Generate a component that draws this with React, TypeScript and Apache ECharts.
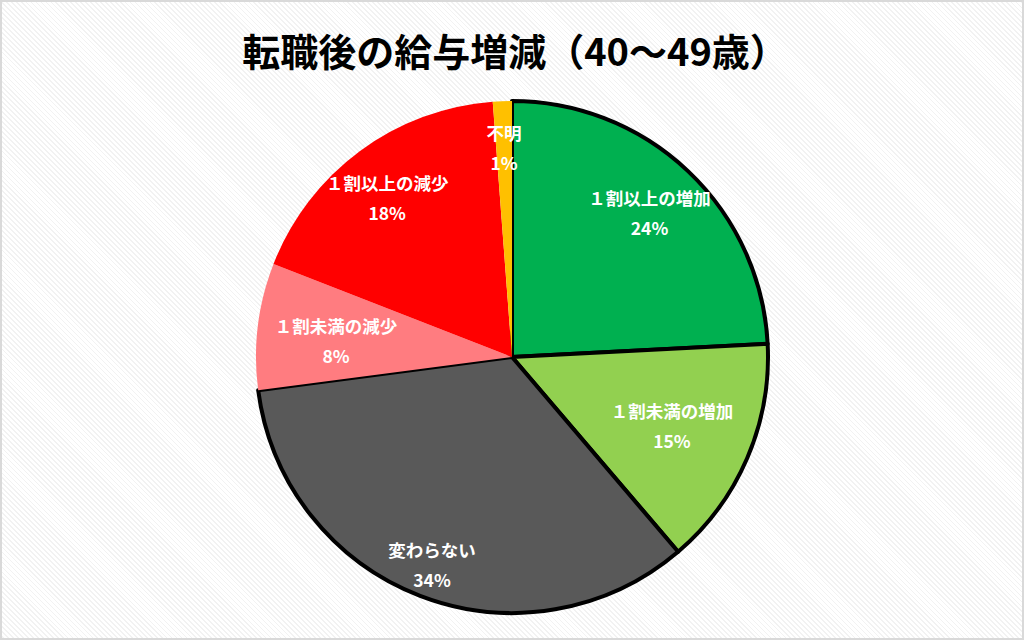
import React, { useEffect, useRef } from "react";
import * as echarts from "echarts";

const titleText = "転職後の給与増減（40〜49歳）";
const categories = ["１割以上の増加", "１割未満の増加", "変わらない", "１割未満の減少", "１割以上の減少", "不明"];
const shares = [24.2, 14.6, 34.2, 8.0, 17.9, 1.2];

const colors = ["#00b050", "#92d050", "#595959", "#ff7c80", "#ff0000", "#ffc000"];
const outlined = [true, true, true, false, false, false];
const labelRadius = [0.78, 0.68, 0.87, 0.69, 0.79, 0.82];
const labelAngleShift = [0, 0, 0, -1.7, -1.6, 0];

const W = 1024;
const H = 640;
const CX = 512;
const CY = 357;
const R = 256;
const FONT = "'Noto Sans CJK JP', 'Noto Sans', sans-serif";

export default function App() {
  const ref = useRef<HTMLDivElement>(null);
  useEffect(() => {
    if (!ref.current) return;
    const chart = echarts.init(ref.current, undefined, { renderer: "svg", width: W, height: H });
    const total = shares.reduce((a, b) => a + b, 0);
    chart.setOption({
      animation: false,
      backgroundColor: "transparent",
      title: {
        text: titleText,
        left: 510,
        textAlign: "center",
        top: 25,
        textStyle: { fontFamily: FONT, fontSize: 38, fontWeight: "bold", color: "#000" },
      },
      series: [
        {
          type: "pie",
          center: [CX, CY],
          radius: R,
          startAngle: 90,
          clockwise: true,
          silent: true,
          emphasis: { disabled: true },
          labelLine: { show: false },
          label: {
            show: true,
            position: "inside",
            color: "#fff",
            fontFamily: FONT,
            fontWeight: "bold",
            fontSize: 17.5,
            lineHeight: 30,
            formatter: (p: any) => `${p.name}\n${Math.round(p.percent)}%`,
          },
          labelLayout: (p: any) => {
            const i = p.dataIndex;
            let before = 0;
            for (let j = 0; j < i; j++) before += shares[j];
            const mid = ((before + shares[i] / 2) / total) * 360 + labelAngleShift[i];
            const a = (mid * Math.PI) / 180;
            return {
              x: CX + R * labelRadius[i] * Math.sin(a),
              y: CY - R * labelRadius[i] * Math.cos(a),
              align: "center",
              verticalAlign: "middle",
            };
          },
          data: categories.map((name, i) => ({
            name,
            value: shares[i],
            itemStyle: {
              color: colors[i],
              borderColor: "#000",
              borderWidth: outlined[i] ? 4 : 0,
            },
          })),
        },
      ],
    });
    return () => chart.dispose();
  }, []);

  return (
    <div
      style={{
        position: "fixed",
        left: 0,
        top: 0,
        width: W,
        height: H,
        background:
          "repeating-linear-gradient(45deg, #f2f2f2 0px, #f2f2f2 1.2px, #ffffff 1.2px, #ffffff 3.5px)",
        boxShadow: "inset 0 0 0 2px #d9d9d9",
      }}
    >
      <div ref={ref} style={{ position: "absolute", left: 0, top: 0, width: W, height: H }} />
    </div>
  );
}
